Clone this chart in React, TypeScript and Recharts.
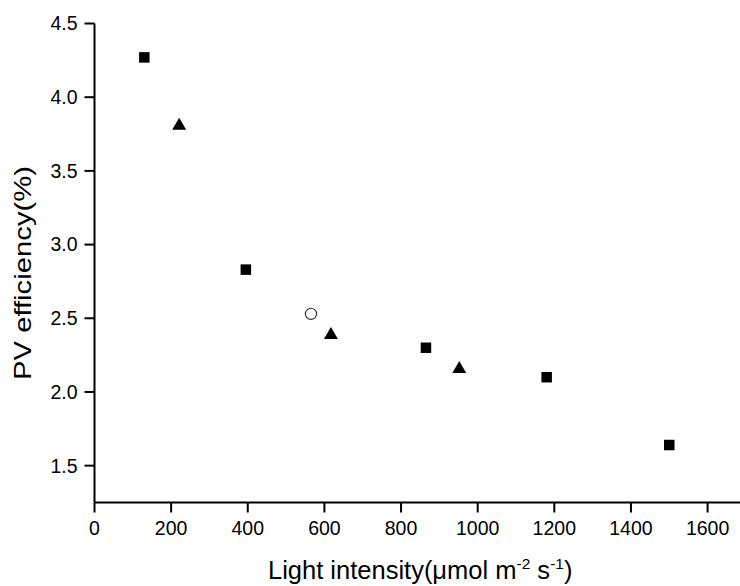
import React from "react"
import {
  ScatterChart,
  Scatter,
  XAxis,
  YAxis,
  Label,
} from "recharts"

const squareX = [130, 395, 865, 1180, 1500]
const squareY = [4.27, 2.83, 2.3, 2.1, 1.64]
const triangleX = [221, 617, 952]
const triangleY = [3.82, 2.4, 2.17]
const circleX = [565]
const circleY = [2.53]

const xTicks = [0, 200, 400, 600, 800, 1000, 1200, 1400, 1600]
const xMinorTicks = [100, 300, 500, 700, 900, 1100, 1300, 1500]
const yTicks = [1.5, 2.0, 2.5, 3.0, 3.5, 4.0, 4.5]
const yMinorTicks = [1.75, 2.25, 2.75, 3.25, 3.75, 4.25]

const FONT = "'Liberation Sans', Arial, sans-serif"
const INK = "#000"
const THIN = 0.01 // axes with zero size are skipped, so keep them almost flat

const toPoints = (xs: number[], ys: number[]) => xs.map((x, i) => ({ x, y: ys[i] }))

const squares = toPoints(squareX, squareY)
const triangles = toPoints(triangleX, triangleY)
const circles = toPoints(circleX, circleY)

function SquareMark({ cx, cy }: any) {
  return <rect x={cx - 5.25} y={cy - 5.25} width={10.5} height={10.5} fill={INK} />
}

function TriangleMark({ cx, cy }: any) {
  const w = 14, h = 12
  return (
    <polygon
      points={`${cx},${cy - h / 2} ${cx + w / 2},${cy + h / 2} ${cx - w / 2},${cy + h / 2}`}
      fill={INK}
    />
  )
}

function CircleMark({ cx, cy }: any) {
  return <circle cx={cx} cy={cy} r={5.6} fill="#fff" stroke="#333" strokeWidth={1.2} />
}

function XTitle({ viewBox }: any) {
  const x = viewBox.x + viewBox.width / 2
  const y = viewBox.y + 76
  return (
    <text x={x} y={y} textAnchor="middle" fontFamily={FONT} fontSize={25.5} fill={INK}>
      <tspan>Light intensity(μmol m</tspan>
      <tspan dy={-10} fontSize={15.5}>-2</tspan>
      <tspan dy={10}> s</tspan>
      <tspan dy={-10} fontSize={15.5}>-1</tspan>
      <tspan dy={10}>)</tspan>
    </text>
  )
}

function YTitle({ viewBox }: any) {
  const x = viewBox.x + viewBox.width - 63.5
  const y = viewBox.y + viewBox.height / 2 + 10
  return (
    <text
      x={x}
      y={y}
      transform={`rotate(-90 ${x} ${y})`}
      textAnchor="middle"
      textLength={214}
      lengthAdjust="spacingAndGlyphs"
      fontFamily={FONT}
      fontSize={24.5}
      fill={INK}
    >
      PV efficiency(%)
    </text>
  )
}

const tickStyle = { fill: INK, fontSize: 19.5, fontFamily: FONT }
const lineStyle = { stroke: INK, strokeWidth: 2 }

export default function App() {
  return (
    <div
      style={{
        position: "absolute",
        left: 0,
        top: 0,
        width: 740,
        height: 586,
        overflow: "hidden",
        background: "#fff",
      }}
    >
      <ScatterChart
        width={760}
        height={586}
        margin={{ top: 23.5, right: 14.1, bottom: 83.5 - 2 * THIN, left: 94.5 - 2 * THIN }}
      >
        <XAxis
          type="number"
          dataKey="x"
          domain={[0, 1700]}
          ticks={xTicks}
          interval={0}
          height={THIN}
          tick={tickStyle}
          tickSize={10}
          tickMargin={9}
          axisLine={lineStyle}
          tickLine={lineStyle}
          allowDataOverflow
        >
          <Label content={XTitle} />
        </XAxis>
        <XAxis
          xAxisId="minor"
          type="number"
          domain={[0, 1700]}
          ticks={xMinorTicks}
          interval={0}
          height={THIN}
          tick={false}
          tickSize={6}
          axisLine={false}
          tickLine={lineStyle}
          allowDataOverflow
        />
        <YAxis
          type="number"
          dataKey="y"
          domain={[1.25, 4.5]}
          ticks={yTicks}
          interval={0}
          width={THIN}
          tick={tickStyle}
          tickSize={10}
          tickMargin={7}
          tickFormatter={(v: number) => v.toFixed(1)}
          axisLine={lineStyle}
          tickLine={lineStyle}
          allowDataOverflow
        >
          <Label content={YTitle} />
        </YAxis>
        <YAxis
          yAxisId="minor"
          type="number"
          domain={[1.25, 4.5]}
          ticks={yMinorTicks}
          interval={0}
          width={THIN}
          tick={false}
          tickSize={6}
          axisLine={false}
          tickLine={lineStyle}
          allowDataOverflow
        />
        <Scatter data={squares} shape={SquareMark} isAnimationActive={false} />
        <Scatter data={triangles} shape={TriangleMark} isAnimationActive={false} />
        <Scatter data={circles} shape={CircleMark} isAnimationActive={false} />
      </ScatterChart>
    </div>
  )
}
